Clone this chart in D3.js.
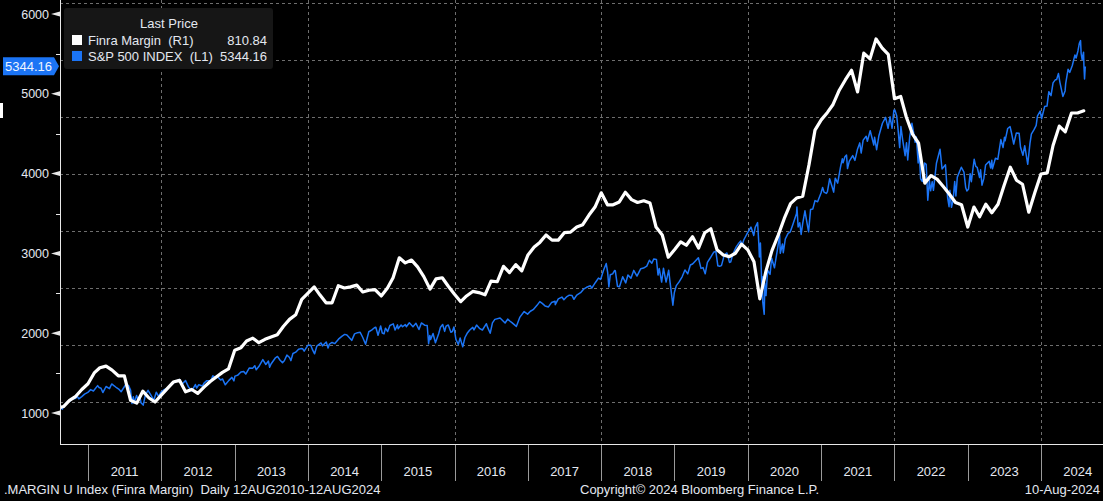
<!DOCTYPE html>
<html>
<head>
<meta charset="utf-8">
<script src="https://cdn.jsdelivr.net/npm/d3@7"></script>
<style>
  body { margin: 0; background: #000; }
  svg { display: block; font-family: "Liberation Sans", Arial, sans-serif; }
</style>
</head>
<body>
<div id="chart"></div>
<script>
var svgWidth = 1103;
var svgHeight = 501;

// plot box (left axis at x=60, bottom axis at y=444)
var plot = { left: 60, right: 1103, top: 0, bottom: 444 };

// Finra margin debt ($bn), monthly, starting Aug 2010
var marginStart = "2010-08-01";
var marginValues = [
  289, 292, 303, 310, 322,
  332, 351, 360, 363, 356, 346, 346, 303, 298, 319, 307, 300,
  312, 324, 335, 338, 318, 322, 315, 326, 336, 344, 352, 358,
  391, 395, 407, 412, 404, 410, 414, 418, 433, 445, 453, 480,
  491, 502, 488, 474, 474, 504, 500, 502, 505, 493, 496, 497,
  486, 500, 518, 553, 544, 549, 537, 520, 498, 516, 518, 503,
  489, 476, 486, 494, 492, 488, 512, 511, 538, 527, 541, 530,
  558, 572, 580, 593, 584, 584, 597, 598, 607, 611, 628, 642,
  667, 646, 646, 651, 668, 655, 650, 653, 649, 607, 593, 554,
  567, 581, 575, 590, 570, 597, 604, 567, 558, 555, 561, 577,
  567, 546, 481, 530, 566, 593, 622, 648, 658, 661, 716, 777,
  795, 808, 822, 847, 865, 882, 844, 912, 902, 937, 921, 910,
  832, 836, 800, 770, 754, 684, 697, 691, 678, 665, 650, 646,
  607, 642, 625, 647, 632, 647, 680, 712, 689, 682, 633, 667,
  700, 702, 750, 784, 774, 807, 807, 810.84
];

// S&P 500 index closes
var spxPoints = [
  ["2010-08-12",1083],["2010-08-16",1079],["2010-08-26",1047],["2010-09-01",1080],["2010-09-15",1125],["2010-09-24",1148],
  ["2010-10-01",1146],["2010-10-15",1176],["2010-11-01",1184],["2010-11-05",1225],["2010-11-16",1178],["2010-12-01",1206],
  ["2010-12-15",1236],["2010-12-31",1258],
  ["2011-01-14",1293],["2011-01-28",1276],["2011-02-18",1343],["2011-02-25",1320],["2011-03-07",1311],["2011-03-16",1256],
  ["2011-04-01",1332],["2011-04-18",1305],["2011-04-29",1364],["2011-05-13",1338],["2011-05-23",1317],["2011-06-03",1300],
  ["2011-06-15",1266],["2011-07-07",1353],["2011-07-22",1345],["2011-08-01",1287],["2011-08-08",1119],["2011-08-15",1204],
  ["2011-08-19",1124],["2011-08-31",1219],["2011-09-09",1154],["2011-09-16",1216],["2011-09-22",1129],["2011-10-03",1099],
  ["2011-10-14",1224],["2011-10-27",1285],["2011-11-09",1229],["2011-11-25",1159],["2011-12-07",1261],["2011-12-19",1205],
  ["2011-12-30",1258],
  ["2012-01-13",1289],["2012-01-31",1312],["2012-02-15",1344],["2012-03-01",1374],["2012-03-15",1403],["2012-04-02",1419],
  ["2012-04-10",1358],["2012-04-20",1378],["2012-05-01",1406],["2012-05-15",1330],["2012-06-01",1278],["2012-06-19",1357],
  ["2012-06-25",1313],["2012-07-06",1354],["2012-07-24",1338],["2012-08-01",1375],["2012-08-15",1405],["2012-09-04",1404],
  ["2012-09-14",1466],["2012-10-01",1444],["2012-10-05",1461],["2012-10-23",1413],["2012-11-01",1427],["2012-11-15",1353],
  ["2012-12-03",1409],["2012-12-18",1446],["2012-12-28",1402],
  ["2013-01-02",1462],["2013-01-15",1472],["2013-02-01",1513],["2013-02-15",1520],["2013-02-25",1488],["2013-03-14",1563],
  ["2013-04-01",1562],["2013-04-11",1593],["2013-04-18",1541],["2013-05-01",1582],["2013-05-21",1669],["2013-06-05",1608],
  ["2013-06-18",1651],["2013-06-24",1573],["2013-07-01",1614],["2013-07-23",1692],["2013-08-02",1709],["2013-08-15",1661],
  ["2013-08-27",1631],["2013-09-05",1655],["2013-09-18",1725],["2013-10-01",1695],["2013-10-08",1656],["2013-10-18",1745],
  ["2013-11-01",1762],["2013-11-15",1798],["2013-11-27",1807],["2013-12-06",1805],["2013-12-13",1775],["2013-12-31",1848],
  ["2014-01-15",1848],["2014-01-24",1790],["2014-02-03",1742],["2014-02-14",1838],["2014-03-07",1878],["2014-03-14",1841],
  ["2014-04-02",1890],["2014-04-11",1815],["2014-04-18",1864],["2014-05-01",1884],["2014-05-15",1870],["2014-06-02",1925],
  ["2014-06-20",1963],["2014-07-03",1985],["2014-07-14",1977],["2014-07-31",1931],["2014-08-07",1910],["2014-08-21",1992],
  ["2014-09-05",2007],["2014-09-18",2011],["2014-10-01",1946],["2014-10-15",1862],["2014-10-31",2018],["2014-11-14",2039],
  ["2014-11-28",2068],["2014-12-05",2075],["2014-12-16",1973],["2014-12-29",2090],
  ["2015-01-06",2003],["2015-01-15",1992],["2015-01-22",2063],["2015-02-02",2021],["2015-02-13",2097],["2015-03-02",2117],
  ["2015-03-11",2040],["2015-03-23",2104],["2015-03-26",2056],["2015-04-10",2102],["2015-04-17",2081],["2015-05-01",2108],
  ["2015-05-06",2080],["2015-05-21",2131],["2015-06-08",2080],["2015-06-23",2124],["2015-07-08",2046],["2015-07-20",2128],
  ["2015-08-05",2100],["2015-08-18",2096],["2015-08-25",1868],["2015-08-31",1972],["2015-09-04",1921],["2015-09-16",1996],
  ["2015-09-28",1881],["2015-10-14",1994],["2015-10-23",2075],["2015-11-03",2110],["2015-11-13",2023],["2015-11-20",2089],
  ["2015-12-01",2103],["2015-12-14",2012],["2015-12-21",2021],["2015-12-29",2078],
  ["2016-01-08",1922],["2016-01-20",1859],["2016-01-29",1940],["2016-02-11",1829],["2016-02-22",1946],["2016-03-04",1999],
  ["2016-03-17",2040],["2016-04-01",2073],["2016-04-07",2041],["2016-04-20",2102],["2016-05-06",2057],["2016-05-19",2040],
  ["2016-06-08",2119],["2016-06-13",2079],["2016-06-27",2000],["2016-07-08",2130],["2016-07-20",2173],["2016-08-15",2190],
  ["2016-09-09",2128],["2016-09-22",2177],["2016-10-04",2150],["2016-10-13",2132],["2016-11-04",2085],["2016-11-21",2198],
  ["2016-12-13",2271],["2016-12-30",2239],
  ["2017-01-13",2275],["2017-01-27",2295],["2017-02-15",2349],["2017-03-01",2396],["2017-03-13",2373],["2017-03-27",2342],
  ["2017-04-13",2329],["2017-04-28",2384],["2017-05-16",2401],["2017-05-17",2358],["2017-06-01",2431],["2017-06-19",2453],
  ["2017-06-29",2419],["2017-07-14",2459],["2017-07-26",2477],["2017-08-08",2474],["2017-08-18",2425],["2017-09-01",2477],
  ["2017-09-20",2508],["2017-10-05",2552],["2017-10-20",2575],["2017-11-08",2594],["2017-11-15",2565],["2017-12-04",2639],
  ["2017-12-18",2690],["2017-12-29",2674],
  ["2018-01-12",2786],["2018-01-26",2873],["2018-02-02",2762],["2018-02-08",2581],["2018-02-15",2732],["2018-02-27",2744],
  ["2018-03-09",2786],["2018-03-12",2783],["2018-03-23",2588],["2018-04-02",2582],["2018-04-18",2708],["2018-05-03",2630],
  ["2018-05-14",2730],["2018-05-29",2690],["2018-06-12",2787],["2018-06-28",2716],["2018-07-17",2809],["2018-07-31",2816],
  ["2018-08-16",2840],["2018-08-29",2914],["2018-09-10",2877],["2018-09-20",2931],["2018-10-03",2925],["2018-10-11",2729],
  ["2018-10-17",2810],["2018-10-29",2641],["2018-11-07",2814],["2018-11-20",2641],["2018-12-03",2790],["2018-12-10",2637],
  ["2018-12-24",2351],["2018-12-31",2507],
  ["2019-01-10",2596],["2019-01-24",2643],["2019-02-08",2707],["2019-02-22",2793],["2019-03-08",2743],["2019-03-21",2854],
  ["2019-04-01",2867],["2019-04-15",2905],["2019-04-30",2946],["2019-05-13",2812],["2019-05-23",2822],["2019-06-03",2744],
  ["2019-06-14",2887],["2019-06-28",2942],["2019-07-15",3014],["2019-07-26",3026],["2019-08-05",2844],["2019-08-14",2840],
  ["2019-08-23",2847],["2019-09-06",2979],["2019-09-19",3006],["2019-10-02",2887],["2019-10-08",2893],["2019-10-18",2986],
  ["2019-11-04",3078],["2019-11-15",3120],["2019-11-27",3154],["2019-12-03",3093],["2019-12-12",3168],["2019-12-27",3240],
  ["2020-01-17",3330],["2020-01-31",3225],["2020-02-07",3327],["2020-02-19",3386],["2020-02-25",3128],["2020-02-28",2954],
  ["2020-03-04",3130],["2020-03-09",2747],["2020-03-12",2481],["2020-03-13",2711],["2020-03-16",2386],["2020-03-23",2237],
  ["2020-03-26",2630],["2020-04-01",2471],["2020-04-09",2790],["2020-04-21",2737],["2020-04-29",2939],["2020-05-13",2820],
  ["2020-05-27",3036],["2020-06-08",3232],["2020-06-11",3002],["2020-06-22",3118],["2020-06-26",3009],["2020-07-06",3180],
  ["2020-07-20",3251],["2020-07-31",3271],["2020-08-14",3373],["2020-08-31",3500],["2020-09-02",3580],["2020-09-08",3332],
  ["2020-09-16",3385],["2020-09-23",3237],["2020-10-01",3380],["2020-10-12",3534],["2020-10-19",3427],["2020-10-30",3270],
  ["2020-11-09",3551],["2020-11-20",3557],["2020-12-01",3662],["2020-12-14",3647],["2020-12-31",3756],
  ["2021-01-08",3825],["2021-01-15",3768],["2021-01-27",3751],["2021-02-01",3773],["2021-02-12",3935],["2021-02-25",3829],
  ["2021-03-04",3768],["2021-03-12",3943],["2021-03-24",3881],["2021-04-07",4080],["2021-04-16",4185],["2021-04-20",4135],
  ["2021-04-29",4211],["2021-05-07",4232],["2021-05-12",4063],["2021-05-21",4156],["2021-06-07",4226],["2021-06-18",4166],
  ["2021-06-30",4298],["2021-07-12",4385],["2021-07-19",4258],["2021-07-29",4419],["2021-08-13",4468],["2021-08-19",4406],
  ["2021-09-02",4537],["2021-09-20",4358],["2021-09-24",4455],["2021-10-04",4300],["2021-10-15",4471],["2021-11-02",4631],
  ["2021-11-18",4705],["2021-11-30",4567],["2021-12-10",4712],["2021-12-20",4568],["2021-12-29",4793],
  ["2022-01-03",4796],["2022-01-12",4726],["2022-01-18",4577],["2022-01-27",4326],["2022-02-02",4589],["2022-02-11",4419],
  ["2022-02-23",4225],["2022-03-02",4387],["2022-03-08",4170],["2022-03-18",4463],["2022-03-29",4631],["2022-04-08",4488],
  ["2022-04-14",4392],["2022-04-20",4459],["2022-04-29",4132],["2022-05-04",4300],["2022-05-11",3935],["2022-05-20",3901],
  ["2022-05-31",4132],["2022-06-08",4116],["2022-06-16",3667],["2022-06-24",3912],["2022-06-30",3785],["2022-07-08",3899],
  ["2022-07-14",3790],["2022-07-29",4130],["2022-08-16",4305],["2022-08-26",4058],["2022-09-12",4110],["2022-09-23",3693],
  ["2022-09-30",3586],["2022-10-04",3791],["2022-10-12",3577],["2022-10-20",3665],["2022-10-28",3901],["2022-11-03",3720],
  ["2022-11-10",3956],["2022-11-30",4080],["2022-12-01",4076],["2022-12-13",4020],["2022-12-22",3822],["2022-12-28",3783],
  ["2023-01-05",3808],["2023-01-13",3999],["2023-01-19",3899],["2023-02-02",4180],["2023-02-10",4090],["2023-02-17",4079],
  ["2023-03-01",3951],["2023-03-06",4048],["2023-03-13",3855],["2023-03-22",3937],["2023-03-31",4109],["2023-04-18",4155],
  ["2023-04-25",4071],["2023-05-01",4167],["2023-05-04",4061],["2023-05-19",4192],["2023-05-31",4180],["2023-06-15",4426],
  ["2023-06-26",4328],["2023-07-03",4455],["2023-07-06",4411],["2023-07-19",4565],["2023-07-31",4589],["2023-08-08",4499],
  ["2023-08-18",4370],["2023-08-31",4508],["2023-09-14",4505],["2023-09-21",4330],["2023-10-03",4229],["2023-10-12",4349],
  ["2023-10-27",4117],["2023-11-07",4378],["2023-11-14",4496],["2023-11-28",4554],["2023-12-08",4604],["2023-12-14",4719],
  ["2023-12-28",4783],
  ["2024-01-04",4688],["2024-01-19",4840],["2024-01-31",4846],["2024-02-09",5027],["2024-02-20",4976],["2024-03-01",5137],
  ["2024-03-12",5175],["2024-03-19",5179],["2024-03-28",5254],["2024-04-04",5147],["2024-04-19",4967],["2024-04-30",5036],
  ["2024-05-03",5128],["2024-05-15",5308],["2024-05-23",5268],["2024-06-05",5354],["2024-06-18",5487],["2024-06-24",5448],
  ["2024-07-03",5537],["2024-07-10",5633],["2024-07-16",5667],["2024-07-19",5505],["2024-07-24",5427],["2024-07-31",5522],
  ["2024-08-02",5346],["2024-08-05",5186],["2024-08-08",5319],["2024-08-09",5344.16]
];

var leftTicks = [1000, 2000, 3000, 4000, 5000, 6000];
var leftMinorTicks = [1500, 2500, 3500, 4500, 5500];
var rightGridValues = [300, 400, 500, 600, 700, 800, 900, 1000];
var yearLabels = [2011, 2012, 2013, 2014, 2015, 2016, 2017, 2018, 2019, 2020, 2021, 2022, 2023, 2024];
var gridYears = [2012, 2014, 2016, 2018, 2020, 2022, 2024];

var legendRows = [
  { name: "Finra Margin  (R1)", value: "810.84", color: "#ffffff" },
  { name: "S&P 500 INDEX  (L1)", value: "5344.16", color: "#1b74f5" }
];

var parseDate = d3.timeParse("%Y-%m-%d");
var blue = "#1b74f5";
var textColor = "#e4e8f0";

var svg = d3.select("#chart")
  .append("svg")
  .attr("width", svgWidth)
  .attr("height", svgHeight);

svg.append("rect")
  .attr("width", svgWidth)
  .attr("height", svgHeight)
  .attr("fill", "#000");

// scales
var xScale = d3.scaleTime()
  .domain([new Date(2011, 0, 1), new Date(2024, 0, 1)])
  .range([88, 1041]);

var yLeft = d3.scaleLinear()
  .domain([1000, 6000])
  .range([413, 14]);

var yRight = d3.scaleLinear()
  .domain([300, 1000])
  .range([402, 3]);

svg.append("clipPath")
  .attr("id", "plotClip")
  .append("rect")
  .attr("x", plot.left)
  .attr("y", plot.top)
  .attr("width", plot.right - plot.left)
  .attr("height", plot.bottom - plot.top);

// gridlines
var grid = svg.append("g")
  .attr("stroke", "#6e6e6e")
  .attr("stroke-width", 1)
  .attr("stroke-dasharray", "3,3");

grid.selectAll("line.h")
  .data(rightGridValues)
  .enter()
  .append("line")
  .attr("class", "h")
  .attr("x1", plot.left)
  .attr("x2", plot.right)
  .attr("y1", d => Math.round(yRight(d)) + 0.5)
  .attr("y2", d => Math.round(yRight(d)) + 0.5);

grid.selectAll("line.v")
  .data(gridYears)
  .enter()
  .append("line")
  .attr("class", "v")
  .attr("x1", d => Math.round(xScale(new Date(d, 0, 1))) + 0.5)
  .attr("x2", d => Math.round(xScale(new Date(d, 0, 1))) + 0.5)
  .attr("y1", plot.top)
  .attr("y2", plot.bottom);

// series
var marginData = marginValues.map(function (v, i) {
  return { date: d3.timeMonth.offset(parseDate(marginStart), i), value: v };
});
var spxData = spxPoints.map(function (p) {
  return { date: parseDate(p[0]), value: p[1] };
});

var lines = svg.append("g").attr("clip-path", "url(#plotClip)");

lines.append("path")
  .datum(spxData)
  .attr("fill", "none")
  .attr("stroke", blue)
  .attr("stroke-width", 1.5)
  .attr("stroke-linejoin", "round")
  .attr("d", d3.line().x(d => xScale(d.date)).y(d => yLeft(d.value)));

lines.append("path")
  .datum(marginData)
  .attr("fill", "none")
  .attr("stroke", "#ffffff")
  .attr("stroke-width", 3.2)
  .attr("stroke-linejoin", "round")
  .attr("stroke-linecap", "round")
  .attr("d", d3.line().x(d => xScale(d.date)).y(d => yRight(d.value)));

// left axis
svg.append("line")
  .attr("x1", plot.left + 0.5).attr("x2", plot.left + 0.5)
  .attr("y1", 0).attr("y2", plot.bottom)
  .attr("stroke", "#e8e8e8");

var leftAxis = svg.append("g");
leftAxis.selectAll("path.tick")
  .data(leftTicks)
  .enter()
  .append("path")
  .attr("d", function (d) {
    var y = yLeft(d);
    return "M51," + y + "L60," + (y - 2.5) + "L60," + (y + 2.5) + "Z";
  })
  .attr("fill", "#e8e8e8");

leftAxis.selectAll("line.minor")
  .data(leftMinorTicks)
  .enter()
  .append("line")
  .attr("x1", 56).attr("x2", 60)
  .attr("y1", d => Math.round(yLeft(d)) + 0.5)
  .attr("y2", d => Math.round(yLeft(d)) + 0.5)
  .attr("stroke", "#e8e8e8");

leftAxis.selectAll("text")
  .data(leftTicks)
  .enter()
  .append("text")
  .attr("x", 49)
  .attr("y", d => yLeft(d) + 4.5)
  .attr("text-anchor", "end")
  .attr("fill", textColor)
  .style("font-size", "12.5px")
  .text(d => d);

// last value marker on left axis
var lastSpx = spxPoints[spxPoints.length - 1][1];
var ly = yLeft(lastSpx);
svg.append("path")
  .attr("d", "M3," + (ly - 9) + "L54," + (ly - 9) + "L59," + ly + "L54," + (ly + 9) + "L3," + (ly + 9) + "Z")
  .attr("fill", blue);
svg.append("text")
  .attr("x", 5)
  .attr("y", ly + 4.5)
  .attr("fill", "#eef4ff")
  .style("font-size", "13px")
  .text(d3.format(".2f")(lastSpx));

// clipped marker at the left edge
svg.append("rect")
  .attr("x", 0).attr("y", 103)
  .attr("width", 3).attr("height", 15)
  .attr("fill", "#ffffff");

// bottom axis
svg.append("line")
  .attr("x1", plot.left).attr("x2", plot.right)
  .attr("y1", plot.bottom + 0.5).attr("y2", plot.bottom + 0.5)
  .attr("stroke", "#e8e8e8");

var bottom = svg.append("g");
bottom.selectAll("line")
  .data(yearLabels)
  .enter()
  .append("line")
  .attr("x1", d => Math.round(xScale(new Date(d, 0, 1))) + 0.5)
  .attr("x2", d => Math.round(xScale(new Date(d, 0, 1))) + 0.5)
  .attr("y1", plot.bottom + 1)
  .attr("y2", 481)
  .attr("stroke", "#9a9a9a");

bottom.selectAll("text")
  .data(yearLabels)
  .enter()
  .append("text")
  .attr("x", d => (xScale(new Date(d, 0, 1)) + xScale(new Date(d + 1, 0, 1))) / 2)
  .attr("y", 476)
  .attr("text-anchor", "middle")
  .attr("fill", textColor)
  .style("font-size", "13px")
  .text(d => d);

// legend
var legend = svg.append("g");
legend.append("rect")
  .attr("x", 64).attr("y", 8)
  .attr("width", 209).attr("height", 61)
  .attr("rx", 3)
  .attr("fill", "#161616");

legend.append("text")
  .attr("x", 169).attr("y", 28)
  .attr("text-anchor", "middle")
  .attr("fill", textColor)
  .style("font-size", "13px")
  .text("Last Price");

var rows = legend.selectAll("g.row")
  .data(legendRows)
  .enter()
  .append("g")
  .attr("class", "row")
  .attr("transform", (d, i) => `translate(0, ${45 + i * 16})`);

rows.append("rect")
  .attr("x", 72).attr("y", -10)
  .attr("width", 10).attr("height", 10)
  .attr("fill", d => d.color);

rows.append("text")
  .attr("x", 88).attr("y", 0)
  .attr("fill", textColor)
  .style("font-size", "13px")
  .style("white-space", "pre")
  .text(d => d.name);

rows.append("text")
  .attr("x", 267).attr("y", 0)
  .attr("text-anchor", "end")
  .attr("fill", textColor)
  .style("font-size", "13px")
  .text(d => d.value);

// footer
var footer = svg.append("g")
  .attr("fill", textColor)
  .style("font-size", "13px");

footer.append("text")
  .attr("x", 4).attr("y", 494)
  .style("white-space", "pre")
  .text(".MARGIN U Index (Finra Margin)  Daily 12AUG2010-12AUG2024");

footer.append("text")
  .attr("x", 580).attr("y", 494)
  .text("Copyright\u00a9 2024 Bloomberg Finance L.P.");

footer.append("text")
  .attr("x", 1100).attr("y", 494)
  .attr("text-anchor", "end")
  .text("10-Aug-2024");
</script>
</body>
</html>
